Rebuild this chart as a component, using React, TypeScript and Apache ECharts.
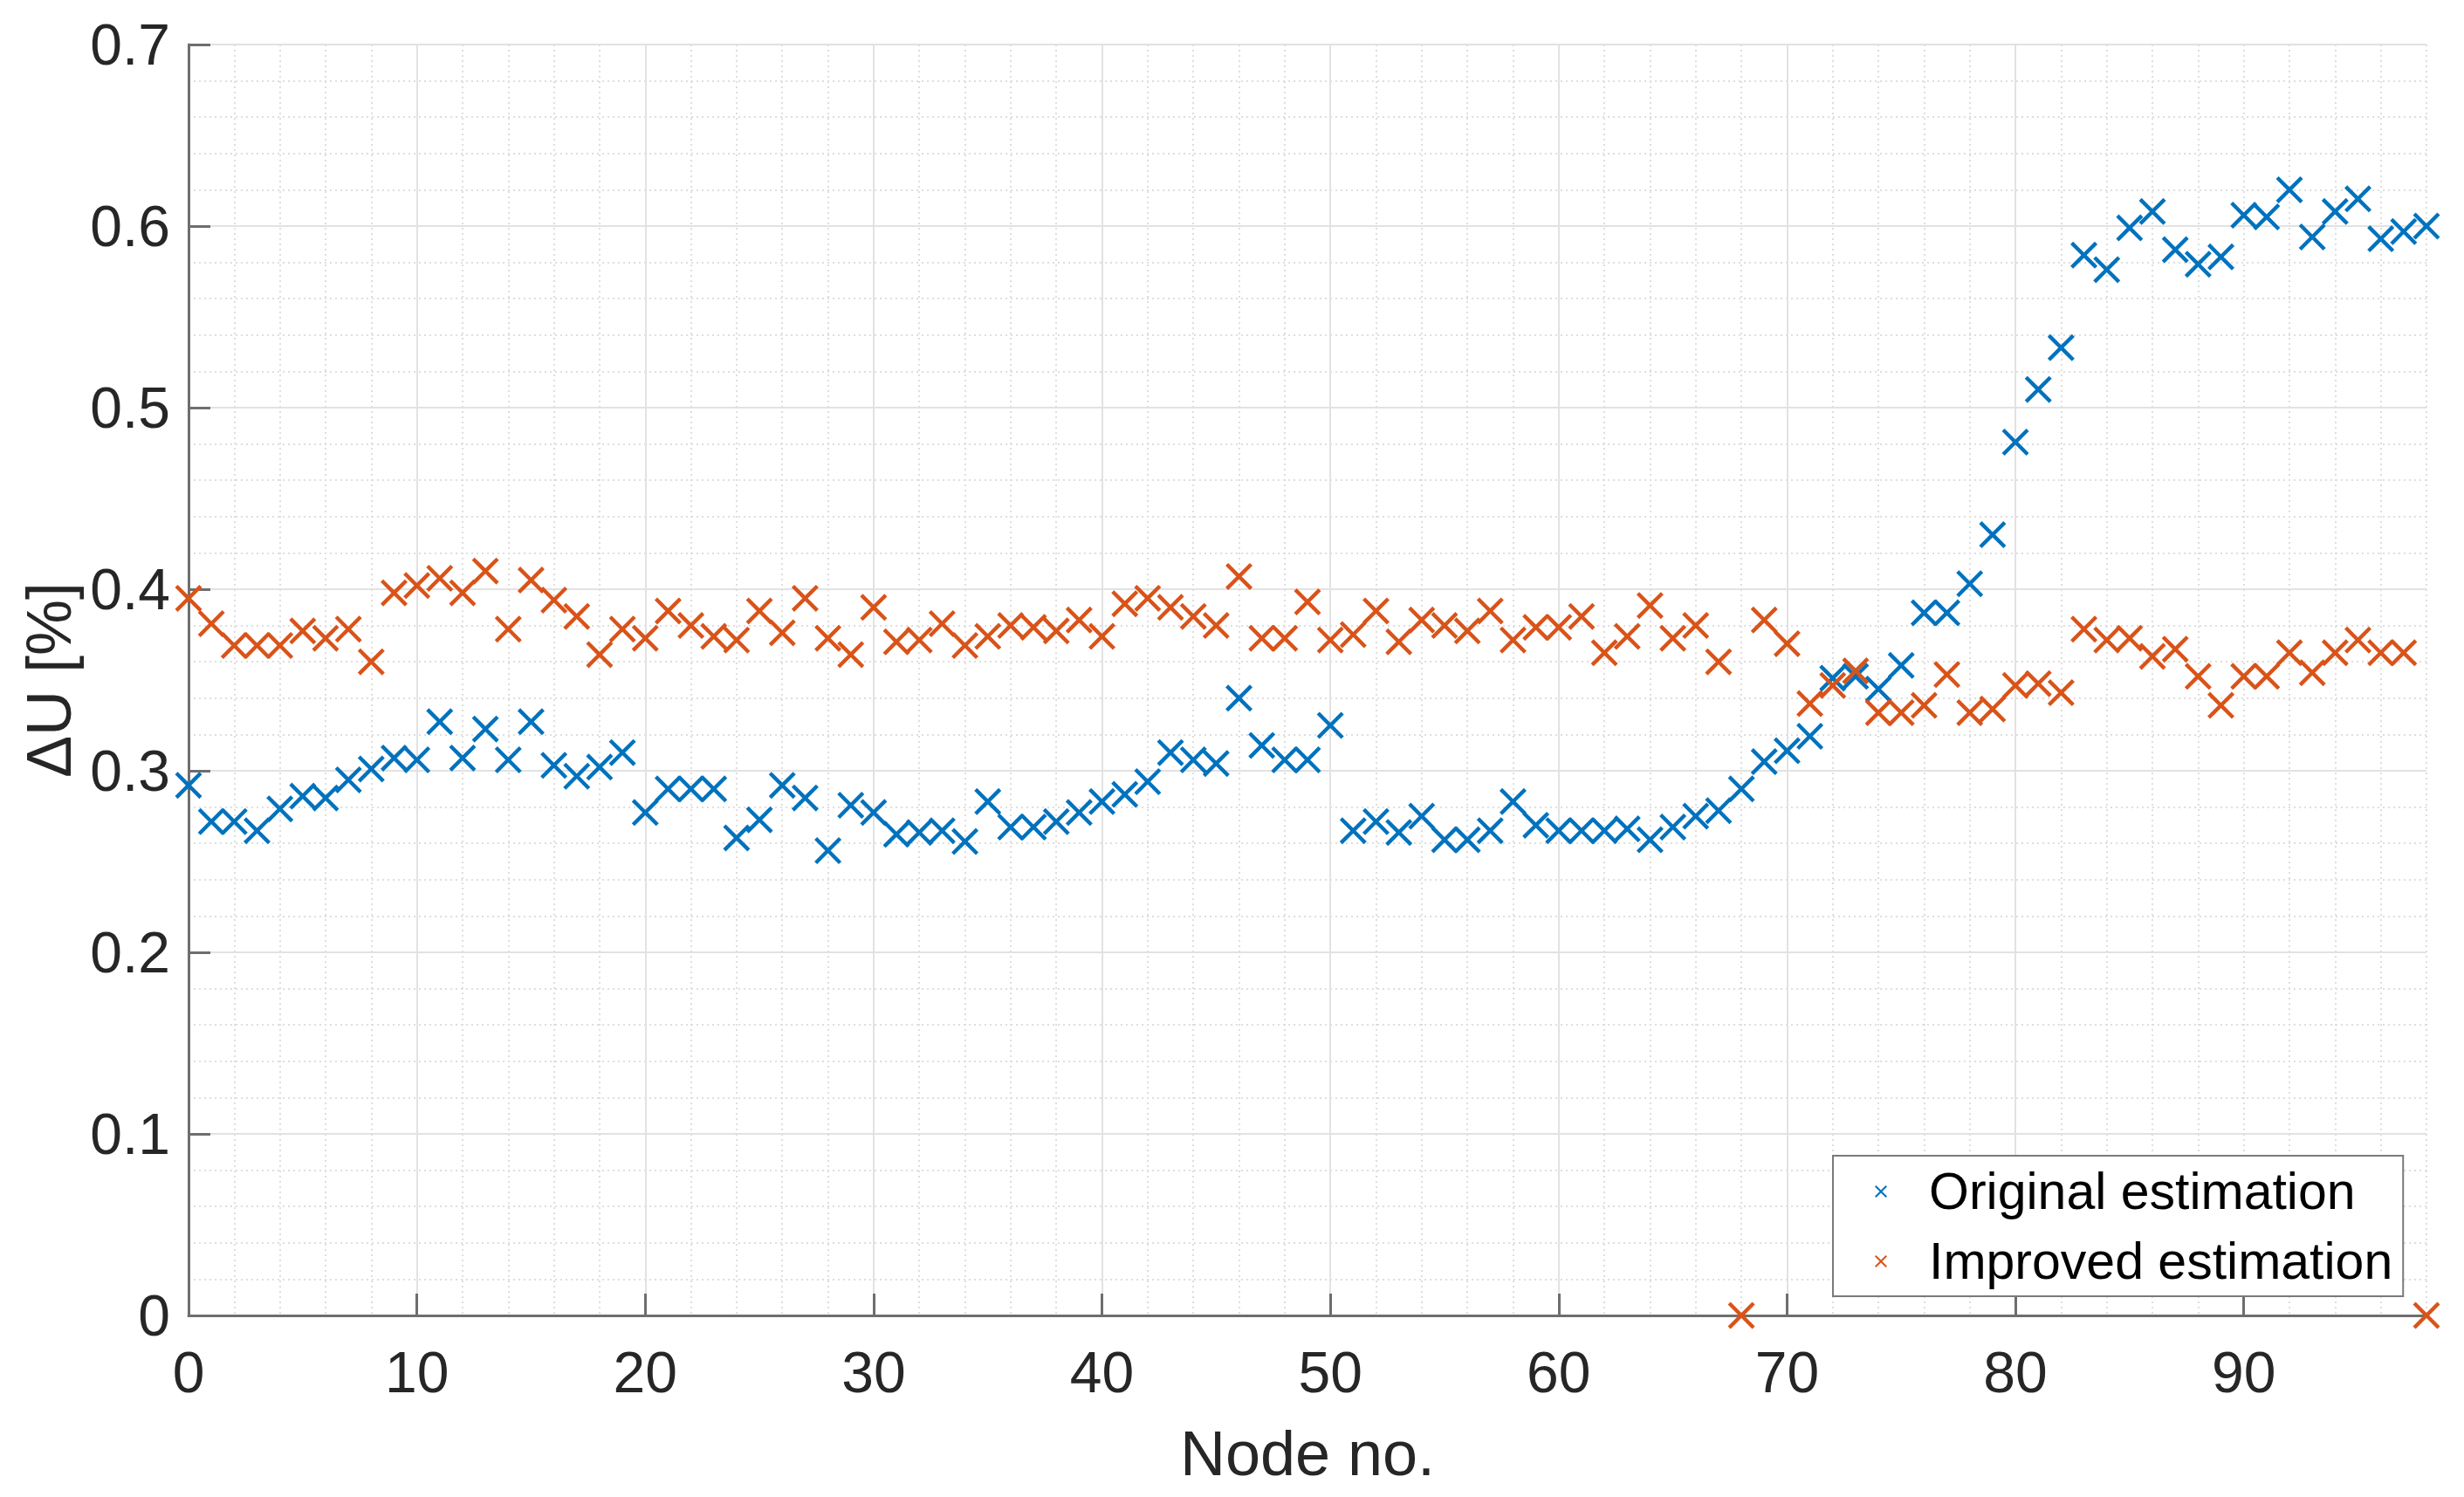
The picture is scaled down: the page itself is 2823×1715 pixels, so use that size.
import React, { useEffect, useRef } from "react";
import * as echarts from "echarts";

const nodes: number[] = Array.from({ length: 99 }, (_, i) => i);

const originalEstimation: number[] = [
  0.292, 0.272, 0.272, 0.267, 0.279, 0.286, 0.285, 0.295, 0.301, 0.307,
  0.306, 0.327, 0.307, 0.323, 0.306, 0.327, 0.303, 0.297, 0.302, 0.310,
  0.277, 0.290, 0.290, 0.290, 0.263, 0.273, 0.292, 0.285, 0.256, 0.281,
  0.277, 0.265, 0.266, 0.267, 0.261, 0.283, 0.269, 0.269, 0.272, 0.277,
  0.283, 0.287, 0.294, 0.310, 0.306, 0.304, 0.340, 0.314, 0.306, 0.306,
  0.325, 0.267, 0.272, 0.266, 0.275, 0.262, 0.262, 0.267, 0.283, 0.270,
  0.267, 0.267, 0.267, 0.268, 0.262, 0.269, 0.275, 0.278, 0.290, 0.305,
  0.311, 0.319, 0.351, 0.352, 0.345, 0.358, 0.387, 0.387, 0.403, 0.430,
  0.481, 0.510, 0.533, 0.584, 0.576, 0.599, 0.608, 0.587, 0.579, 0.583,
  0.606, 0.605, 0.620, 0.594, 0.608, 0.615, 0.593, 0.597, 0.600,
];

const improvedEstimation: number[] = [
  0.395, 0.381, 0.369, 0.369, 0.369, 0.377, 0.373, 0.378, 0.360, 0.398,
  0.402, 0.406, 0.398, 0.410, 0.378, 0.405, 0.394, 0.385, 0.364, 0.378,
  0.373, 0.388, 0.380, 0.374, 0.372, 0.388, 0.376, 0.395, 0.373, 0.364,
  0.390, 0.371, 0.372, 0.381, 0.369, 0.374, 0.380, 0.379, 0.377, 0.383,
  0.374, 0.392, 0.395, 0.390, 0.385, 0.380, 0.407, 0.373, 0.373, 0.393,
  0.372, 0.375, 0.388, 0.371, 0.383, 0.380, 0.377, 0.388, 0.372, 0.379,
  0.379, 0.385, 0.365, 0.374, 0.391, 0.373, 0.380, 0.360, 0.0, 0.383,
  0.370, 0.337, 0.347, 0.355, 0.332, 0.332, 0.336, 0.353, 0.332, 0.334,
  0.347, 0.348, 0.343, 0.378, 0.372, 0.373, 0.363, 0.367, 0.352, 0.336,
  0.352, 0.352, 0.365, 0.354, 0.365, 0.372, 0.365, 0.365, 0.0,
];

const xTickLabels: number[] = [0, 10, 20, 30, 40, 50, 60, 70, 80, 90];
const yTickLabels: number[] = [0, 0.1, 0.2, 0.3, 0.4, 0.5, 0.6, 0.7];

const seriesNames = ["Original estimation", "Improved estimation"];
const seriesColors = ["#0072BD", "#D95319"];

const CROSS =
  "path://M0,10L10,0L50,40L90,0L100,10L60,50L100,90L90,100L50,60L10,100L0,90L40,50Z";

const FONT = "'Liberation Sans', Arial, Helvetica, sans-serif";
const TEXT_COLOR = "#262626";
const AXIS_COLOR = "#6e6e6e";

export default function App() {
  const ref = useRef<HTMLDivElement>(null);

  useEffect(() => {
    if (!ref.current) return;
    const chart = echarts.init(ref.current, undefined, { renderer: "svg" });

    const minorGridX = {
      type: "value",
      position: "bottom",
      offset: 0,
      min: 0,
      max: 98,
      interval: 2,
      axisLine: { show: false },
      axisTick: { show: false },
      axisLabel: { show: false },
      splitLine: {
        show: true,
        lineStyle: { color: "#dedede", width: 2, type: [2, 4] },
      },
    };
    const minorGridY = {
      type: "value",
      position: "left",
      offset: 0,
      min: 0,
      max: 0.7,
      interval: 0.02,
      axisLine: { show: false },
      axisTick: { show: false },
      axisLabel: { show: false },
      splitLine: {
        show: true,
        lineStyle: { color: "#dedede", width: 2, type: [2, 4] },
      },
    };

    const option: any = {
      animation: false,
      backgroundColor: "#ffffff",
      textStyle: { fontFamily: FONT },
      grid: { left: 216, right: 43, top: 51, bottom: 208, containLabel: false },
      legend: {
        show: true,
        data: seriesNames,
        orient: "vertical",
        left: 2100,
        top: 1324,
        padding: [11, 12, 10, 48],
        itemGap: 20,
        itemWidth: 100,
        itemHeight: 14,
        borderColor: "#7a7a7a",
        borderWidth: 2,
        borderRadius: 0,
        backgroundColor: "#ffffff",
        selectedMode: false,
        textStyle: {
          fontFamily: FONT,
          fontSize: 59,
          lineHeight: 60,
          color: "#000000",
        },
      },
      xAxis: [
        minorGridX,
        {
          type: "value",
          position: "bottom",
          offset: 0,
          min: 0,
          max: 98,
          interval: 10,
          name: "Node no.",
          nameLocation: "middle",
          nameGap: 122,
          nameTextStyle: { fontFamily: FONT, fontSize: 72, color: TEXT_COLOR },
          axisLine: { show: true, onZero: false, lineStyle: { color: AXIS_COLOR, width: 3 } },
          axisTick: {
            show: true,
            inside: true,
            length: 25,
            lineStyle: { color: AXIS_COLOR, width: 3 },
            customValues: xTickLabels,
          },
          axisLabel: {
            show: true,
            margin: 32,
            fontFamily: FONT,
            fontSize: 66,
            color: TEXT_COLOR,
            customValues: xTickLabels,
          },
          splitLine: {
            show: true,
            showMaxLine: false,
            lineStyle: { color: "#e2e2e2", width: 2, type: "solid" },
          },
        },
      ],
      yAxis: [
        minorGridY,
        {
          type: "value",
          position: "left",
          offset: 0,
          min: 0,
          max: 0.7,
          interval: 0.1,
          name: "ΔU [%]",
          nameLocation: "middle",
          nameGap: 124,
          nameTextStyle: { fontFamily: FONT, fontSize: 72, color: TEXT_COLOR },
          axisLine: { show: true, onZero: false, lineStyle: { color: AXIS_COLOR, width: 3 } },
          axisTick: {
            show: true,
            inside: true,
            length: 25,
            lineStyle: { color: AXIS_COLOR, width: 3 },
            customValues: yTickLabels,
          },
          axisLabel: {
            show: true,
            margin: 21,
            fontFamily: FONT,
            fontSize: 66,
            color: TEXT_COLOR,
            formatter: (v: number) => String(Math.round(v * 10) / 10),
            customValues: yTickLabels,
          },
          splitLine: {
            show: true,
            lineStyle: { color: "#e2e2e2", width: 2, type: "solid" },
          },
        },
      ],
      series: [originalEstimation, improvedEstimation].map((vals, k) => ({
        name: seriesNames[k],
        type: "scatter",
        xAxisIndex: 1,
        yAxisIndex: 1,
        symbol: CROSS,
        symbolSize: 31,
        clip: false,
        itemStyle: { color: seriesColors[k], opacity: 1 },
        emphasis: { disabled: true },
        data: nodes.map((n, i) => [n, vals[i]]),
      })),
    };

    chart.setOption(option);
    return () => {
      chart.dispose();
    };
  }, []);

  return (
    <div
      ref={ref}
      style={{
        position: "fixed",
        left: 0,
        top: 0,
        width: "2823px",
        height: "1715px",
        background: "#ffffff",
      }}
    />
  );
}
